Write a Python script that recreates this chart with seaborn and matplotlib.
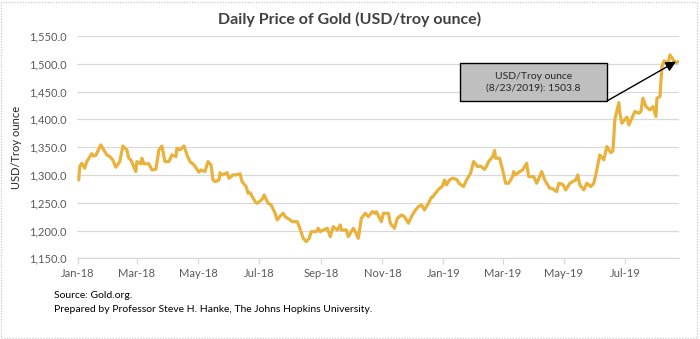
import matplotlib
matplotlib.use("Agg")
import matplotlib.pyplot as plt
import matplotlib.dates as mdates
from matplotlib.patches import Rectangle
from matplotlib.ticker import FuncFormatter
import seaborn as sns
import pandas as pd

dates = [
    "2018-01-02", "2018-01-03", "2018-01-05", "2018-01-08", "2018-01-10", "2018-01-15", "2018-01-17",
    "2018-01-19", "2018-01-24", "2018-01-26", "2018-01-30", "2018-02-02", "2018-02-05", "2018-02-08",
    "2018-02-12", "2018-02-15", "2018-02-19", "2018-02-21", "2018-02-23", "2018-02-28", "2018-03-01",
    "2018-03-05", "2018-03-06", "2018-03-08", "2018-03-13", "2018-03-16", "2018-03-20", "2018-03-23",
    "2018-03-26", "2018-03-29", "2018-04-02", "2018-04-05", "2018-04-09", "2018-04-10", "2018-04-13",
    "2018-04-17", "2018-04-20", "2018-04-23", "2018-04-27", "2018-05-02", "2018-05-04", "2018-05-08",
    "2018-05-11", "2018-05-14", "2018-05-16", "2018-05-18", "2018-05-22", "2018-05-23", "2018-05-25",
    "2018-05-30", "2018-06-01", "2018-06-05", "2018-06-08", "2018-06-12", "2018-06-14", "2018-06-18",
    "2018-06-20", "2018-06-22", "2018-06-27", "2018-06-29", "2018-07-04", "2018-07-06", "2018-07-10",
    "2018-07-13", "2018-07-17", "2018-07-19", "2018-07-23", "2018-07-25", "2018-07-27", "2018-08-01",
    "2018-08-03", "2018-08-08", "2018-08-10", "2018-08-14", "2018-08-17", "2018-08-20", "2018-08-22",
    "2018-08-27", "2018-08-29", "2018-08-31", "2018-09-03", "2018-09-07", "2018-09-10", "2018-09-13",
    "2018-09-17", "2018-09-20", "2018-09-21", "2018-09-26", "2018-09-28", "2018-10-03", "2018-10-05",
    "2018-10-08", "2018-10-11", "2018-10-15", "2018-10-18", "2018-10-22", "2018-10-25", "2018-10-26",
    "2018-10-31", "2018-11-02", "2018-11-07", "2018-11-09", "2018-11-13", "2018-11-16", "2018-11-20",
    "2018-11-23", "2018-11-27", "2018-11-30", "2018-12-04", "2018-12-07", "2018-12-10", "2018-12-13",
    "2018-12-17", "2018-12-20", "2018-12-21", "2018-12-27", "2018-12-31", "2019-01-02", "2019-01-04",
    "2019-01-07", "2019-01-10", "2019-01-14", "2019-01-17", "2019-01-21", "2019-01-24", "2019-01-28",
    "2019-01-31", "2019-02-04", "2019-02-07", "2019-02-11", "2019-02-13", "2019-02-15", "2019-02-19",
    "2019-02-21", "2019-02-22", "2019-02-26", "2019-03-01", "2019-03-04", "2019-03-07", "2019-03-11",
    "2019-03-12", "2019-03-14", "2019-03-18", "2019-03-21", "2019-03-25", "2019-03-27", "2019-04-01",
    "2019-04-04", "2019-04-09", "2019-04-12", "2019-04-17", "2019-04-19", "2019-04-24", "2019-04-26",
    "2019-04-30", "2019-05-03", "2019-05-07", "2019-05-13", "2019-05-15", "2019-05-17", "2019-05-21",
    "2019-05-24", "2019-05-28", "2019-05-31", "2019-06-03", "2019-06-06", "2019-06-10", "2019-06-13",
    "2019-06-17", "2019-06-19", "2019-06-20", "2019-06-21", "2019-06-25", "2019-06-26", "2019-06-28",
    "2019-07-03", "2019-07-05", "2019-07-08", "2019-07-11", "2019-07-15", "2019-07-17", "2019-07-19",
    "2019-07-22", "2019-07-26", "2019-07-29", "2019-08-01", "2019-08-02", "2019-08-05", "2019-08-07",
    "2019-08-09", "2019-08-13", "2019-08-15", "2019-08-19", "2019-08-21", "2019-08-23",
]
prices = [
    1291, 1315, 1321, 1312, 1324, 1338, 1334,
    1335, 1354, 1348, 1336, 1333, 1327, 1314,
    1324, 1352, 1345, 1330, 1327, 1306, 1324,
    1320, 1330, 1320, 1320, 1309, 1310, 1345,
    1352, 1324, 1324, 1336, 1333, 1348, 1345,
    1352, 1336, 1324, 1318, 1305, 1309, 1306,
    1324, 1318, 1291, 1288, 1291, 1304, 1300,
    1304, 1294, 1300, 1300, 1302, 1288, 1279,
    1267, 1268, 1252, 1249, 1256, 1264, 1249,
    1246, 1231, 1219, 1228, 1231, 1225, 1219,
    1216, 1216, 1207, 1186, 1180, 1186, 1198,
    1198, 1204, 1198, 1201, 1204, 1189, 1207,
    1201, 1210, 1201, 1201, 1189, 1204, 1198,
    1186, 1222, 1231, 1225, 1234, 1231, 1234,
    1216, 1231, 1231, 1213, 1204, 1222, 1228,
    1225, 1213, 1225, 1237, 1243, 1246, 1237,
    1249, 1260, 1260, 1274, 1280, 1291, 1282,
    1291, 1294, 1292, 1284, 1279, 1291, 1303,
    1324, 1315, 1316, 1310, 1316, 1324, 1333,
    1344, 1330, 1330, 1309, 1285, 1285, 1297,
    1306, 1300, 1306, 1309, 1321, 1297, 1297,
    1285, 1306, 1291, 1276, 1276, 1270, 1285,
    1283, 1273, 1285, 1291, 1300, 1282, 1273,
    1285, 1279, 1285, 1309, 1336, 1327, 1351,
    1340, 1343, 1369, 1400, 1430, 1411, 1393,
    1404, 1390, 1402, 1414, 1411, 1414, 1438,
    1423, 1417, 1423, 1405, 1438, 1441, 1495,
    1505, 1501, 1516, 1505, 1502, 1503.8,
]

y_ticks = [1150, 1200, 1250, 1300, 1350, 1400, 1450, 1500, 1550]
x_tick_dates = ["2018-01-01", "2018-03-01", "2018-05-01", "2018-07-01", "2018-09-01",
                "2018-11-01", "2019-01-01", "2019-03-01", "2019-05-01", "2019-07-01"]

title = "Daily Price of Gold (USD/troy ounce)"
y_label = "USD/Troy ounce"
note_text = "USD/Troy ounce\n(8/23/2019): 1503.8"
source_lines = ["Source: Gold.org.",
                "Prepared by Professor Steve H. Hanke, The Johns Hopkins University."]

df = pd.DataFrame({"date": pd.to_datetime(dates), "price": prices})

sns.set_style("white")
plt.rcParams["font.family"] = ["Lato", "DejaVu Sans"]

fig = plt.figure(figsize=(7.0, 3.39), dpi=100)
ax = fig.add_axes([0.1096, 0.238, 0.8604, 0.656])

for v in y_ticks:
    ax.axhline(v, color="#d9d9d9", lw=0.9, zorder=0)

sns.lineplot(data=df, x="date", y="price", ax=ax, color="#E9B23C", lw=2.3, zorder=3)

ax.set_ylim(1150, 1550)
ax.set_xlim(pd.Timestamp("2017-12-31"), pd.Timestamp("2019-08-24"))
ax.set_yticks(y_ticks)
ax.yaxis.set_major_formatter(FuncFormatter(lambda v, p: f"{v:,.1f}"))
ax.set_xticks(pd.to_datetime(x_tick_dates))
ax.xaxis.set_major_formatter(mdates.DateFormatter("%b-%y"))

for s in ["top", "right", "left"]:
    ax.spines[s].set_visible(False)
ax.spines["bottom"].set_color("#d9d9d9")
ax.spines["bottom"].set_linewidth(0.9)
ax.tick_params(axis="x", which="major", length=4, color="#d9d9d9", width=0.9,
               labelsize=8, labelcolor="#595959", pad=3, direction="out", bottom=True)
ax.tick_params(axis="y", length=0, labelsize=8, labelcolor="#595959", pad=7.5)
ax.set_xlabel("")
ax.set_ylabel(y_label, fontsize=8, color="#262626", labelpad=5)

fig.suptitle(title, x=0.5, y=0.965, fontsize=11.5, fontweight="bold", color="#404040")

# annotation box
box = Rectangle((0.636, 0.7076), 0.244, 0.171, transform=ax.transAxes,
                facecolor="#bfbfbf", edgecolor="black", lw=1.0, zorder=5)
ax.add_patch(box)
ax.text(0.758, 0.793, note_text, transform=ax.transAxes, ha="center", va="center",
        fontsize=7.5, color="#262626", linespacing=1.4, zorder=6)
ax.annotate("", xy=(df["date"].iloc[-1] - pd.Timedelta(days=2), df["price"].iloc[-1]),
            xytext=(0.8805, 0.7076), textcoords="axes fraction",
            arrowprops=dict(arrowstyle="-|>,head_length=0.6,head_width=0.3", color="black",
                            lw=1.0, shrinkA=0, shrinkB=0), zorder=6)

fig.text(54 / 700, 1 - 295 / 339, source_lines[0], fontsize=7.5, color="black", va="center")
fig.text(54 / 700, 1 - 309 / 339, source_lines[1], fontsize=7.5, color="black", va="center")

border = Rectangle((0.002, 0.003), 0.994, 0.992, transform=fig.transFigure, fill=False,
                   edgecolor="#d0d0d0", lw=1.0, linestyle=(0, (1, 1)))
fig.patches.append(border)

fig.savefig("out.png", dpi=100)
